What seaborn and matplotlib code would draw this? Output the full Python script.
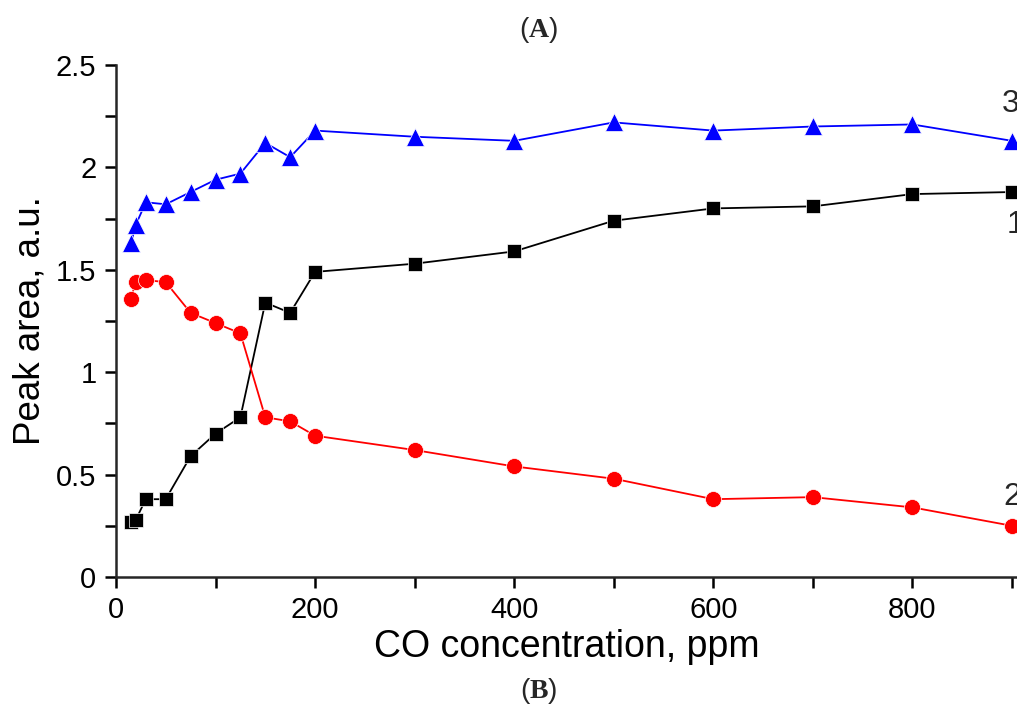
import matplotlib
matplotlib.use("Agg")
import matplotlib.pyplot as plt
import seaborn as sns
import pandas as pd
from matplotlib.ticker import MultipleLocator

# CO concentration, ppm
conc = [15, 20, 30, 50, 75, 100, 125, 150, 175, 200, 300, 400, 500, 600, 700, 800, 900]
# peak areas, a.u.
peak1 = [0.27, 0.28, 0.38, 0.38, 0.59, 0.70, 0.78, 1.34, 1.29, 1.49, 1.53, 1.59, 1.74, 1.80, 1.81, 1.87, 1.88]
peak2 = [1.36, 1.44, 1.45, 1.44, 1.29, 1.24, 1.19, 0.78, 0.76, 0.69, 0.62, 0.54, 0.48, 0.38, 0.39, 0.34, 0.25]
peak3 = [1.63, 1.72, 1.83, 1.82, 1.88, 1.94, 1.97, 2.12, 2.05, 2.18, 2.15, 2.13, 2.22, 2.18, 2.20, 2.21, 2.13]

df = pd.DataFrame({"conc": conc, "p1": peak1, "p2": peak2, "p3": peak3})

sns.set_style("ticks")
plt.rcParams["font.family"] = ["Liberation Sans", "DejaVu Sans"]
plt.rcParams["mathtext.fontset"] = "custom"
plt.rcParams["mathtext.rm"] = "Liberation Serif"
plt.rcParams["mathtext.bf"] = "Liberation Serif:bold"

fig = plt.figure(figsize=(10.17, 7.15), dpi=100)
ax = fig.add_axes([0.114, 0.193, 0.886, 0.716])

sns.lineplot(data=df, x="conc", y="p3", ax=ax, color="blue", marker="^", markersize=13.5,
             markeredgecolor="white", markeredgewidth=0.5, linewidth=1.3, clip_on=False)
sns.lineplot(data=df, x="conc", y="p1", ax=ax, color="black", marker="s", markersize=10.5,
             markeredgecolor="white", markeredgewidth=0.5, linewidth=1.3, clip_on=False)
sns.lineplot(data=df, x="conc", y="p2", ax=ax, color="red", marker="o", markersize=11.5,
             markeredgecolor="white", markeredgewidth=0.5, linewidth=1.3, clip_on=False)

ax.set_xlim(0, 905)
ax.set_ylim(0, 2.5)
ax.xaxis.set_major_locator(MultipleLocator(200))
ax.xaxis.set_minor_locator(MultipleLocator(100))
ax.yaxis.set_major_locator(MultipleLocator(0.5))
ax.yaxis.set_minor_locator(MultipleLocator(0.25))
ax.set_yticks([0, 0.5, 1, 1.5, 2, 2.5])
ax.set_yticklabels(["0", "0.5", "1", "1.5", "2", "2.5"])

for side in ["top", "right"]:
    ax.spines[side].set_visible(False)
for side in ["left", "bottom"]:
    ax.spines[side].set_linewidth(1.8)
ax.tick_params(which="both", direction="out", length=8, width=1.8, labelsize=21,
               colors="black", pad=6)

ax.set_xlabel("CO concentration, ppm", fontsize=27, labelpad=3, color="black")
ax.set_ylabel("Peak area, a.u.", fontsize=26.5, labelpad=6, color="black")

ax.text(890, 2.31, "3", fontsize=23, va="center", ha="left", clip_on=False)
ax.text(895, 1.72, "1", fontsize=23, va="center", ha="left", clip_on=False)
ax.text(891, 0.39, "2", fontsize=23, va="center", ha="left", clip_on=False)

fig.text(0.5295, 0.958, r"($\mathbf{A}$)", fontsize=20, ha="center", va="center")
fig.text(0.5295, 0.033, r"($\mathbf{B}$)", fontsize=20, ha="center", va="center")

fig.savefig("out.png", dpi=100)
